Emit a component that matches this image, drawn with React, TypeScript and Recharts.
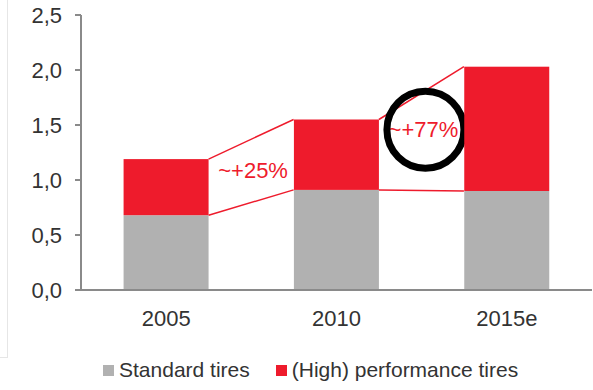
import { Bar, BarChart, Legend, XAxis, YAxis } from "recharts";

const years = ["2005", "2010", "2015e"];
const standardTires = [0.68, 0.91, 0.9];
const performanceTires = [0.51, 0.64, 1.13];
const growthLabels = ["~+25%", "~+77%"];
const highlightedGrowth = 1;
const yTicks = [0, 0.5, 1, 1.5, 2, 2.5];

const seriesNames = {
  standard: "Standard tires",
  performance: "(High) performance tires"
};

const GREY = "#b1b1b1";
const RED = "#ee1b2c";
const AXIS = "#8a8a8a";
const TEXT = "#333333";
const FONT = "'Liberation Sans', Arial, sans-serif";

// bars take half of each band
const GAP = 0.25;

const data = years.map((year, i) => ({
  year,
  standard: standardTires[i],
  performance: performanceTires[i]
}));

// Red segment, plus the outline linking it to the next year's segment
function PerformanceBar(props: any) {
  const { x, y, width, height, index, payload } = props;
  const next = data[index + 1];
  const rect = <rect x={x} y={y} width={width} height={height} fill={RED} />;
  if (!next) return rect;

  const k = height / payload.performance;
  const zeroY = y + height + k * payload.standard;
  const step = width / (1 - 2 * GAP);
  const x1 = x + width;
  const x2 = x + step;
  const top1 = y;
  const top2 = zeroY - k * (next.standard + next.performance);
  const bot1 = zeroY - k * payload.standard;
  const bot2 = zeroY - k * next.standard;

  const highlighted = index === highlightedGrowth;
  const cx = (x1 + x2) / 2 + 2;
  const cy = (top1 + top2 + bot1 + bot2) / 4 + (highlighted ? -12 : 0);

  return (
    <g>
      {rect}
      <line x1={x1} y1={top1} x2={x2} y2={top2} stroke={RED} strokeWidth={1.5} />
      <line x1={x1} y1={bot1} x2={x2} y2={bot2} stroke={RED} strokeWidth={1.5} />
      <text
        x={cx}
        y={cy}
        textAnchor="middle"
        dominantBaseline="central"
        fill={RED}
        fontSize={22}
        fontFamily={FONT}
      >
        {growthLabels[index]}
      </text>
      {highlighted ? (
        <circle cx={cx + 2} cy={cy} r={38.5} fill="none" stroke="#000" strokeWidth={7} />
      ) : null}
    </g>
  );
}

function LegendRow() {
  const items = [
    { label: seriesNames.standard, color: GREY },
    { label: seriesNames.performance, color: RED }
  ];
  return (
    <div
      style={{
        display: "flex",
        alignItems: "center",
        height: 40,
        paddingLeft: 103,
        fontFamily: FONT,
        fontSize: 21,
        color: TEXT
      }}
    >
      {items.map((item, i) => (
        <div
          key={item.label}
          style={{ display: "flex", alignItems: "center", marginLeft: i === 0 ? 0 : 26 }}
        >
          <span
            style={{ width: 11, height: 11, background: item.color, marginRight: 5, marginTop: 1 }}
          />
          <span>{item.label}</span>
        </div>
      ))}
    </div>
  );
}

export default function App() {
  return (
    <div
      style={{
        position: "absolute",
        left: 0,
        top: 0,
        width: 593,
        height: 390,
        background: "#fff"
      }}
    >
      <div
        style={{
          position: "absolute",
          left: 0,
          top: 0,
          width: 7,
          height: 357,
          borderRight: "1px solid #e6e6e6",
          borderBottom: "1px solid #e6e6e6"
        }}
      />
      <BarChart
        width={593}
        height={390}
        data={data}
        margin={{ top: 15, right: 1, bottom: 0, left: 0 }}
        barCategoryGap={`${GAP * 100}%`}
      >
        <XAxis
          dataKey="year"
          tickLine={false}
          tickSize={0}
          tickMargin={20}
          height={60}
          axisLine={{ stroke: AXIS, strokeWidth: 2 }}
          tick={{ fill: TEXT, fontSize: 22, fontFamily: FONT }}
        />
        <YAxis
          domain={[0, 2.5]}
          ticks={yTicks}
          width={81}
          tickSize={6}
          tickMargin={13}
          axisLine={{ stroke: AXIS, strokeWidth: 2 }}
          tickLine={{ stroke: AXIS, strokeWidth: 2 }}
          tick={{ fill: TEXT, fontSize: 22, fontFamily: FONT }}
          tickFormatter={(v: number) => v.toFixed(1).replace(".", ",")}
        />
        <Legend
          verticalAlign="bottom"
          height={40}
          wrapperStyle={{ left: 0, width: 593 }}
          content={() => <LegendRow />}
        />
        <Bar
          dataKey="standard"
          name={seriesNames.standard}
          stackId="tires"
          fill={GREY}
          isAnimationActive={false}
        />
        <Bar
          dataKey="performance"
          name={seriesNames.performance}
          stackId="tires"
          fill={RED}
          shape={PerformanceBar}
          isAnimationActive={false}
        />
      </BarChart>
    </div>
  );
}
